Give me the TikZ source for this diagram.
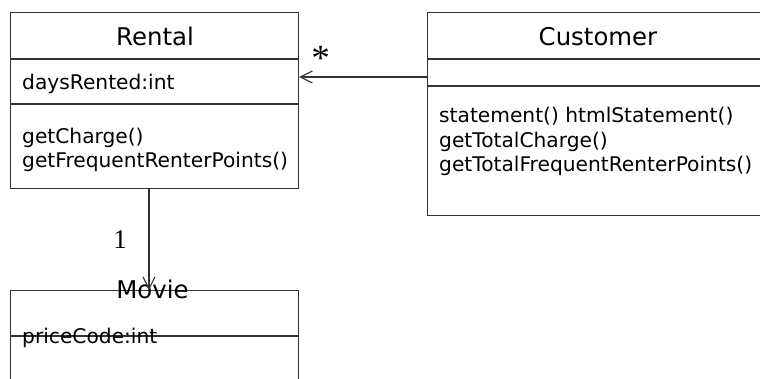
\documentclass[tikz,border=0pt]{standalone}
\usepackage{fontspec}
\setmainfont{DejaVu Sans}
\newfontfamily\multfont{Liberation Serif}
\usetikzlibrary{arrows.meta}
\tikzset{
  classbox/.style={draw=black!80, line width=1.2pt, inner sep=0pt, anchor=north west},
  sep/.style={draw=black!80, line width=1.2pt},
  title/.style={inner sep=0pt, anchor=base, font=\fontsize{24.4}{28}\selectfont},
  member/.style={inner sep=0pt, anchor=base west, font=\fontsize{20.2}{24}\selectfont},
  mult/.style={inner sep=0pt, font=\multfont\fontsize{27}{32}\selectfont},
  starmult/.style={inner sep=0pt, font=\multfont\fontsize{37}{40}\selectfont},
  assoc/.style={draw=black!80, line width=1.1pt, -{Straight Barb[length=12pt,width=12pt,line width=1.1pt]}}
}
\begin{document}
\begin{tikzpicture}[x=1pt,y=-1pt]
\useasboundingbox (0,0) rectangle (760,378);
\begin{scope}
\clip (0,0) rectangle (760,378);
% Rental
\node[classbox, minimum width=288pt, minimum height=176pt] (rental) at (10,12) {};
\draw[sep] (rental.west |- 0,59) -- (rental.east |- 0,59);
\draw[sep] (rental.west |- 0,104) -- (rental.east |- 0,104);
\node[title] (rentalname) at (155,45) {Rental};
\node[member] (days) at (22,89) {daysRented:int};
\node[member] (getcharge) at (22,143) {getCharge()};
\node[member] (getfreq) at (22,167) {getFrequentRenterPoints()};
% Customer
\node[classbox, minimum width=342pt, minimum height=203pt] (customer) at (427,12) {};
\draw[sep] (customer.west |- 0,59) -- (customer.east |- 0,59);
\draw[sep] (customer.west |- 0,86) -- (customer.east |- 0,86);
\node[title] (customername) at (598,45) {Customer};
\node[member] (stmt) at (439,122) {statement() htmlStatement()};
\node[member] (totcharge) at (439,147) {getTotalCharge()};
\node[member] (totfreq) at (439,171) {getTotalFrequentRenterPoints()};
% Movie
\node[classbox, minimum width=288pt, minimum height=130pt] (movie) at (10,290) {};
\draw[sep] (movie.west |- 0,336) -- (movie.east |- 0,336);
\node[title] (moviename) at (152.5,298) {Movie};
\node[member] (price) at (22,343) {priceCode:int};
% associations
\coordinate (custend) at (customer.west |- 0,77);
\coordinate (rentend) at (rental.east |- 0,77);
\draw[assoc] (custend) -- (rentend);
\node[starmult] (star) at (320.5,58) {*};
\coordinate (rentbot) at (rental.south -| 149,0);
\coordinate (movietop) at (movie.north -| 149,0);
\draw[assoc] (rentbot) -- (movietop);
\node[mult] (one) at (120,240) {1};
\end{scope}
\end{tikzpicture}
\end{document}
